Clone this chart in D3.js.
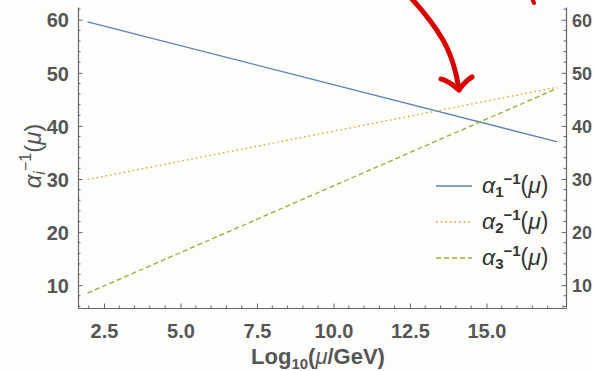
<!DOCTYPE html>
<html>
<head>
<meta charset="utf-8">
<script src="https://cdn.jsdelivr.net/npm/d3@7"></script>
<style>
  body { margin: 0; background: #fdfefc; }
  svg { display: block; }
</style>
</head>
<body>
<div id="chart"></div>
<script>
// data
const logMu = [1.96, 17.32];
const alpha1Inv = [59.6, 37.0];
const alpha2Inv = [29.9, 47.3];
const alpha3Inv = [8.5, 47.1];
const xTicks = [2.5, 5.0, 7.5, 10.0, 12.5, 15.0];
const yTicks = [10, 20, 30, 40, 50, 60];
const seriesNames = ["1", "2", "3"];

const W = 594, H = 371;
const margin = { top: 7, right: 28, bottom: 63, left: 78 };

const svg = d3.select("#chart").append("svg")
  .attr("width", W).attr("height", H);

const x = d3.scaleLinear().domain([1.65, 17.6]).range([margin.left, W - margin.right]);
const y = d3.scaleLinear().domain([5.7, 62.4]).range([H - margin.bottom, margin.top]);

const axisColor = "#666";
const labelColor = "#555";
const font = "'Liberation Sans', Arial, sans-serif";

// minor ticks
const xMinor = d3.range(2.0, 17.6, 0.5).filter(v => xTicks.indexOf(v) < 0);
const yMinor = d3.range(6, 62.5, 2).filter(v => yTicks.indexOf(v) < 0);

function styleAxis(g) {
  g.select(".domain").attr("stroke", axisColor).attr("stroke-width", 1.2);
  g.selectAll(".tick line").attr("stroke", axisColor).attr("stroke-width", 1);
  g.selectAll(".tick text")
    .attr("fill", labelColor)
    .attr("font-family", font)
    .attr("font-weight", "bold")
    .attr("font-size", 20);
}

// bottom axis (ticks inward)
const bottom = svg.append("g")
  .attr("transform", `translate(0,${H - margin.bottom})`)
  .call(d3.axisBottom(x).tickValues(xTicks).tickFormat(d3.format(".1f"))
    .tickSizeInner(-4.5).tickSizeOuter(0).tickPadding(16));
styleAxis(bottom);
bottom.selectAll(".minor").data(xMinor).enter().append("line")
  .attr("x1", d => x(d)).attr("x2", d => x(d))
  .attr("y1", 0).attr("y2", -2.5)
  .attr("stroke", axisColor);

// left axis
const left = svg.append("g")
  .attr("transform", `translate(${margin.left},0)`)
  .call(d3.axisLeft(y).tickValues(yTicks)
    .tickSizeInner(-4.5).tickSizeOuter(0).tickPadding(9));
styleAxis(left);
left.selectAll(".tick text").attr("dy", "0.36em");
left.selectAll(".minor").data(yMinor).enter().append("line")
  .attr("x1", 0).attr("x2", 2.5)
  .attr("y1", d => y(d)).attr("y2", d => y(d))
  .attr("stroke", axisColor);

// right axis
const right = svg.append("g")
  .attr("transform", `translate(${W - margin.right},0)`)
  .call(d3.axisRight(y).tickValues(yTicks)
    .tickSizeInner(-4.5).tickSizeOuter(0).tickPadding(6));
styleAxis(right);
right.selectAll(".tick text").attr("dy", "0.36em").attr("font-size", 18);
right.selectAll(".minor").data(yMinor).enter().append("line")
  .attr("x1", 0).attr("x2", -2.5)
  .attr("y1", d => y(d)).attr("y2", d => y(d))
  .attr("stroke", axisColor);

// lines
const series = [
  { name: seriesNames[0], vals: alpha1Inv, color: "#5E81B5", dash: null },
  { name: seriesNames[1], vals: alpha2Inv, color: "#E19C24", dash: "1.6,3" },
  { name: seriesNames[2], vals: alpha3Inv, color: "#8FB032", dash: "5,3" }
];

const line = d3.line().x(d => x(d[0])).y(d => y(d[1]));

svg.append("g").selectAll("path").data(series).enter().append("path")
  .attr("d", s => line(logMu.map((m, i) => [m, s.vals[i]])))
  .attr("fill", "none")
  .attr("stroke", s => s.color)
  .attr("stroke-width", 1.3)
  .attr("stroke-dasharray", s => s.dash);

// legend
const legend = svg.append("g");
series.forEach((s, i) => {
  const ly = 186 + i * 36;
  legend.append("line")
    .attr("x1", 436).attr("x2", 472).attr("y1", ly).attr("y2", ly)
    .attr("stroke", s.color).attr("stroke-width", 1.3)
    .attr("stroke-dasharray", s.dash);
  const t = legend.append("text")
    .attr("x", 482).attr("y", ly + 7)
    .attr("font-family", font).attr("font-size", 23).attr("fill", "#333");
  t.append("tspan").attr("font-style", "italic").text("α");
  t.append("tspan").attr("font-weight", "bold").attr("font-size", 15).attr("dy", 4).text(s.name);
  t.append("tspan").attr("font-weight", "bold").attr("font-size", 15).attr("dy", -13).text("−1");
  t.append("tspan").attr("dy", 9).text("(");
  t.append("tspan").attr("font-style", "italic").text("μ");
  t.append("tspan").text(")");
});

// axis titles
const xt = svg.append("text")
  .attr("x", 318).attr("y", 364)
  .attr("text-anchor", "middle")
  .attr("font-family", font).attr("font-weight", "bold").attr("font-size", 22)
  .attr("fill", labelColor);
xt.append("tspan").text("Log");
xt.append("tspan").attr("font-size", 15).attr("dy", 5).text("10");
xt.append("tspan").attr("dy", -5).text("(");
xt.append("tspan").attr("font-style", "italic").attr("font-weight", "normal").text("μ");
xt.append("tspan").text("/GeV)");

const yt = svg.append("text")
  .attr("transform", "translate(41,156) rotate(-90)")
  .attr("text-anchor", "middle")
  .attr("font-family", font).attr("font-size", 24)
  .attr("fill", labelColor);
yt.append("tspan").attr("font-style", "italic").text("α");
yt.append("tspan").attr("font-style", "italic").attr("font-size", 16).attr("dy", 4).text("i");
yt.append("tspan").attr("font-size", 16).attr("dy", -14).text("−1");
yt.append("tspan").attr("dy", 10).text("(");
yt.append("tspan").attr("font-style", "italic").text("μ");
yt.append("tspan").text(")");

// hand-drawn red annotation
svg.append("path")
  .attr("d", "M411,-2 C424,12 436,28 443,40 C450,52 453,62 456,74 L459,89")
  .attr("fill", "none").attr("stroke", "#d80000").attr("stroke-width", 5)
  .attr("stroke-linecap", "round").attr("stroke-linejoin", "round");
svg.append("path")
  .attr("d", "M441,79 C447,80 452,84 459,90 C463,84 467,80 472,77")
  .attr("fill", "none").attr("stroke", "#d80000").attr("stroke-width", 5)
  .attr("stroke-linecap", "round").attr("stroke-linejoin", "round");
svg.append("path")
  .attr("d", "M532,-2 L534,3")
  .attr("fill", "none").attr("stroke", "#d80000").attr("stroke-width", 4)
  .attr("stroke-linecap", "round");
</script>
</body>
</html>
